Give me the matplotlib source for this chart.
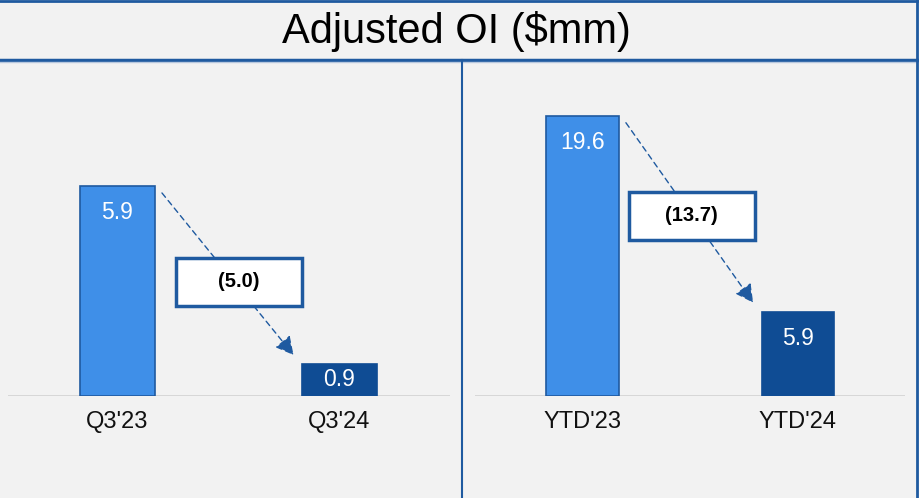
import matplotlib
matplotlib.use("Agg")
import matplotlib.pyplot as plt
from matplotlib.patches import Rectangle
from matplotlib.lines import Line2D

plt.rcParams['font.family'] = ['Liberation Sans', 'DejaVu Sans']

# data
title = "Adjusted OI ($mm)"
q_labels = ["Q3'23", "Q3'24"]
q_values = [5.9, 0.9]
q_delta = "(5.0)"
ytd_labels = ["YTD'23", "YTD'24"]
ytd_values = [19.6, 5.9]
ytd_delta = "(13.7)"

bg = '#f2f2f2'
border = '#1f5aa0'
light = '#3f8fe8'
dark = '#0f4c94'

W, H = 920, 498
fig = plt.figure(figsize=(W / 100, H / 100), dpi=100, facecolor=bg)


def px2data(ax, dx, dy):
    # convert a pixel offset into data units for this axes
    pos = ax.get_position()
    x0, x1 = ax.get_xlim()
    y0, y1 = ax.get_ylim()
    return dx * (x1 - x0) / (pos.width * W), dy * (y1 - y0) / (pos.height * H)


def panel(rect, labels, values, delta, ytop, xlim, box_shift):
    ax = fig.add_axes(rect)
    ax.set_facecolor(bg)
    ax.set_xlim(*xlim)
    ax.set_ylim(0, ytop)
    for s in ax.spines.values():
        s.set_visible(False)
    ax.set_yticks([])
    ax.axhline(0, color='#d4d4d4', lw=2, zorder=1)

    x = [0, 1]
    w = 0.338
    ax.bar(x[0], values[0], width=w, color=light, edgecolor=border, lw=1.2, zorder=2)
    ax.bar(x[1], values[1], width=w, color=dark, edgecolor=dark, lw=1.2, zorder=2)
    ax.set_xticks(x)
    ax.set_xticklabels(labels, fontsize=17, color='#111111')
    ax.tick_params(axis='x', length=0, pad=10.5)

    # value labels inside bars
    for xi, v in zip(x, values):
        _, off = px2data(ax, 0, 27)
        y = v - off if v > 2.2 * off else v / 2
        ax.text(xi, y, f"{v:.1f}", color='white', fontsize=16.5,
                ha='center', va='center', zorder=3)

    # dashed arrow from first bar to second
    ox, oy = px2data(ax, 7, 7)
    _, ey = px2data(ax, 0, 9)
    sx, sy = x[0] + w / 2 + ox, values[0] - oy
    tx, ty = x[1] - w / 2 - 1.2 * ox, values[1] + ey
    ax.annotate('', xy=(tx, ty), xytext=(sx, sy), zorder=2,
                arrowprops=dict(arrowstyle='-|>,head_length=1.1,head_width=0.58',
                                color=border, lw=1, ls=(0, (4, 3)),
                                shrinkA=0, shrinkB=0))

    # delta box
    bw, bh = px2data(ax, 126, 48)
    dx, dy = px2data(ax, *box_shift)
    cx = (sx + tx) / 2 + dx
    cy = (sy + ty) / 2 - dy
    ax.add_patch(Rectangle((cx - bw / 2, cy - bh / 2), bw, bh, facecolor='white',
                           edgecolor=border, lw=2.5, zorder=4))
    ax.text(cx, cy, delta, fontsize=14.5, fontweight='bold', color='black',
            ha='center', va='center', zorder=5)
    return ax


bottom = 1 - 396 / H
height = 326 / H
panel([8 / W, bottom, 442 / W, height], q_labels, q_values, q_delta,
      326 / 35.6, (-0.493, 1.498), (11, 8))
panel([475 / W, bottom, 430 / W, height], ytd_labels, ytd_values, ytd_delta,
      326 / 14.3, (-0.499, 1.497), (2, 3))

# title band and frame lines
fig.text(456.5 / W, 1 - 31 / H, title, fontsize=30, ha='center', va='center', color='black')
fig.add_artist(Line2D([0, 917.5 / W], [1 - 1 / H, 1 - 1 / H], color=border, lw=2))
fig.add_artist(Line2D([0, 917.5 / W], [1 - 60 / H, 1 - 60 / H], color=border, lw=2.5))
fig.add_artist(Line2D([0, 917.5 / W], [1 - 62.5 / H, 1 - 62.5 / H], color='#b8c8de', lw=1))
fig.add_artist(Line2D([917.5 / W, 917.5 / W], [0, 1], color=border, lw=2))
fig.add_artist(Line2D([462.5 / W, 462.5 / W], [0, 1 - 60 / H], color=border, lw=1.5))

fig.savefig('out.png', dpi=100, facecolor=bg)
